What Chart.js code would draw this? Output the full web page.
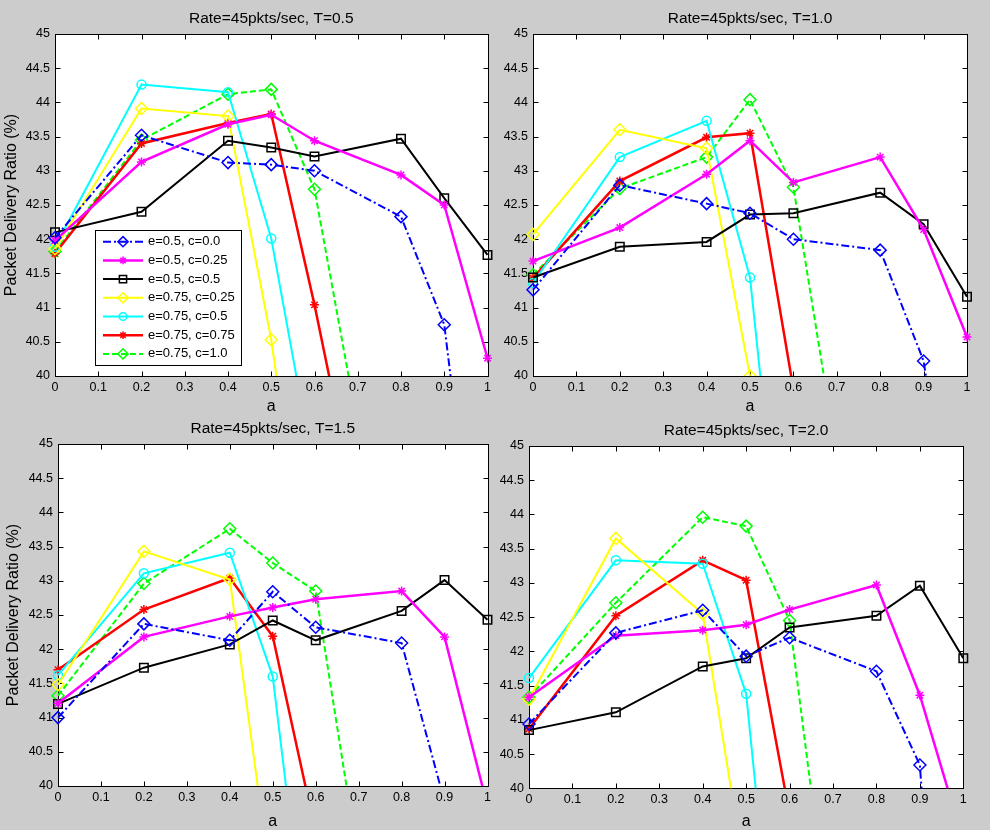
<!DOCTYPE html>
<html>
<head>
<meta charset="utf-8">
<script src="https://cdn.jsdelivr.net/npm/chart.js"></script>
<style>
  html, body { margin: 0; padding: 0; background: #cccccc; }
  #fig { position: relative; width: 990px; height: 830px; background: #cccccc; overflow: hidden; }
  .panel { position: absolute; width: 495px; height: 415px; }
  canvas { display: block; }
</style>
</head>
<body>
<div id="fig">
  <div class="panel" style="left:0;top:0"><canvas id="p1" width="495" height="415"></canvas></div>
  <div class="panel" style="left:495px;top:0"><canvas id="p2" width="495" height="415"></canvas></div>
  <div class="panel" style="left:0;top:415px"><canvas id="p3" width="495" height="415"></canvas></div>
  <div class="panel" style="left:495px;top:415px"><canvas id="p4" width="495" height="415"></canvas></div>
</div>
<script>
// x positions (a) where every series was measured
const aValues = [0, 0.2, 0.4, 0.5, 0.6, 0.8, 0.9, 1];

const xTicks = [0, 0.1, 0.2, 0.3, 0.4, 0.5, 0.6, 0.7, 0.8, 0.9, 1];
const xTickLabels = ['0', '0.1', '0.2', '0.3', '0.4', '0.5', '0.6', '0.7', '0.8', '0.9', '1'];
const yTicks = [40, 40.5, 41, 41.5, 42, 42.5, 43, 43.5, 44, 44.5, 45];
const yTickLabels = ['40', '40.5', '41', '41.5', '42', '42.5', '43', '43.5', '44', '44.5', '45'];

const seriesLabels = ['e=0.5, c=0.0', 'e=0.5, c=0.25', 'e=0.5, c=0.5', 'e=0.75, c=0.25',
                      'e=0.75, c=0.5', 'e=0.75, c=0.75', 'e=0.75, c=1.0'];

// T = 0.5
const T05_e050_c000 = [42.02, 43.52, 43.12, 43.09, 43.00, 42.33, 40.75, 35.6];
const T05_e050_c025 = [41.98, 43.13, 43.68, 43.82, 43.44, 42.94, 42.50, 40.26];
const T05_e050_c050 = [42.10, 42.40, 43.44, 43.34, 43.21, 43.47, 42.60, 41.77];
const T05_e075_c025 = [41.86, 43.91, 43.80, 40.53, 36.1, null, null, null];
const T05_e075_c050 = [41.89, 44.26, 44.15, 42.01, 38.55, null, null, null];
const T05_e075_c075 = [41.79, 43.40, 43.70, 43.83, 41.04, 34.9, null, null];
const T05_e075_c100 = [41.82, 43.45, 44.12, 44.19, 42.73, 35.8, null, null];

// T = 1.0
const T10_e050_c000 = [41.26, 42.79, 42.52, 42.38, 42.00, 41.84, 40.22, 36.0];
const T10_e050_c025 = [41.68, 42.17, 42.95, 43.44, 42.83, 43.20, 42.14, 40.57];
const T10_e050_c050 = [41.44, 41.89, 41.96, 42.36, 42.38, 42.68, 42.22, 41.16];
const T10_e075_c025 = [42.07, 43.60, 43.33, 40.00, 35.0, null, null, null];
const T10_e075_c050 = [41.36, 43.20, 43.73, 41.44, 35.4, null, null, null];
const T10_e075_c075 = [41.43, 42.85, 43.49, 43.55, 39.81, 36.5, null, null];
const T10_e075_c100 = [41.48, 42.74, 43.20, 44.04, 42.76, 34.9, null, null];

// T = 1.5
const T15_e050_c000 = [41.00, 42.37, 42.13, 42.84, 42.32, 42.09, 39.77, 36.0];
const T15_e050_c025 = [41.21, 42.18, 42.48, 42.61, 42.73, 42.85, 42.18, 39.70];
const T15_e050_c050 = [41.20, 41.73, 42.07, 42.42, 42.13, 42.56, 43.01, 42.43];
const T15_e075_c025 = [41.48, 43.43, 43.02, 38.37, null, null, null, null];
const T15_e075_c050 = [41.62, 43.11, 43.41, 41.60, 36.4, null, null, null];
const T15_e075_c075 = [41.70, 42.58, 43.04, 42.19, 39.31, null, null, null];
const T15_e075_c100 = [41.32, 42.96, 43.76, 43.26, 42.85, 34.9, null, null];

// T = 2.0
const T20_e050_c000 = [40.94, 42.27, 42.60, 41.93, 42.20, 41.71, 40.34, 31.4];
const T20_e050_c025 = [41.33, 42.23, 42.31, 42.39, 42.61, 42.97, 41.36, 39.23];
const T20_e050_c050 = [40.85, 41.11, 41.78, 41.90, 42.35, 42.52, 42.96, 41.90];
const T20_e075_c025 = [41.30, 43.65, 42.55, 38.63, null, null, null, null];
const T20_e075_c050 = [41.61, 43.33, 43.28, 41.38, 35.1, null, null, null];
const T20_e075_c075 = [40.87, 42.52, 43.33, 43.04, 39.62, null, null, null];
const T20_e075_c100 = [41.33, 42.71, 43.96, 43.83, 42.45, 32.45, null, null];

// line / marker look of each series (MATLAB-like)
const seriesStyles = [
  { color: '#0000ff', dash: [8, 3, 2, 3], marker: 'rectRot', radius: 6, width: 2 },
  { color: '#ff00ff', dash: [], marker: 'star', radius: 4.5, width: 2.5 },
  { color: '#000000', dash: [], marker: 'rect', radius: 6, width: 2 },
  { color: '#ffff00', dash: [], marker: 'rectRot', radius: 6, width: 2 },
  { color: '#00ffff', dash: [], marker: 'circle', radius: 4.5, width: 2 },
  { color: '#ff0000', dash: [], marker: 'star', radius: 4.5, width: 2.5 },
  { color: '#00ff00', dash: [6, 3], marker: 'rectRot', radius: 6, width: 2 }
];

Chart.defaults.font.family = "'Liberation Sans', Arial, sans-serif";
Chart.defaults.color = '#000';

function drawMarker(ctx, style, x, y, r) {
  ctx.beginPath();
  if (style === 'rectRot') {
    ctx.moveTo(x, y - r); ctx.lineTo(x + r, y); ctx.lineTo(x, y + r); ctx.lineTo(x - r, y); ctx.closePath();
  } else if (style === 'rect') {
    const s = r * Math.SQRT1_2;
    ctx.rect(x - s, y - s, 2 * s, 2 * s);
  } else if (style === 'circle') {
    ctx.arc(x, y, r, 0, Math.PI * 2);
  } else if (style === 'star') {
    const d = r * Math.SQRT1_2;
    ctx.moveTo(x, y - r); ctx.lineTo(x, y + r);
    ctx.moveTo(x - r, y); ctx.lineTo(x + r, y);
    ctx.moveTo(x - d, y - d); ctx.lineTo(x + d, y + d);
    ctx.moveTo(x - d, y + d); ctx.lineTo(x + d, y - d);
  }
  ctx.stroke();
}

// white axes background, box and inward ticks on all four sides
const axesBox = {
  id: 'axesBox',
  beforeDatasetsDraw(chart) {
    const { ctx, chartArea: a, scales: { x, y } } = chart;
    const l = Math.round(a.left) + 0.5, r = Math.round(a.right) + 0.5;
    const t = Math.round(a.top) + 0.5, b = Math.round(a.bottom) + 0.5;
    ctx.save();
    ctx.fillStyle = '#fff';
    ctx.fillRect(l, t, r - l, b - t);
    ctx.strokeStyle = '#000';
    ctx.lineWidth = 1;
    ctx.beginPath();
    x.ticks.forEach(tk => {
      const px = Math.round(x.getPixelForValue(tk.value)) + 0.5;
      ctx.moveTo(px, b); ctx.lineTo(px, b - 5);
      ctx.moveTo(px, t); ctx.lineTo(px, t + 5);
    });
    y.ticks.forEach(tk => {
      const py = Math.round(y.getPixelForValue(tk.value)) + 0.5;
      ctx.moveTo(l, py); ctx.lineTo(l + 5, py);
      ctx.moveTo(r, py); ctx.lineTo(r - 5, py);
    });
    ctx.stroke();
    ctx.strokeRect(l, t, r - l, b - t);
    ctx.restore();
  }
};

// boxed legend inside the first panel
const boxLegend = {
  id: 'boxLegend',
  afterDatasetsDraw(chart, args, opts) {
    if (!opts.show) return;
    const ctx = chart.ctx;
    ctx.save();
    ctx.fillStyle = '#fff';
    ctx.strokeStyle = '#000';
    ctx.lineWidth = 1;
    ctx.fillRect(95.5, 230.5, 146, 135);
    ctx.strokeRect(95.5, 230.5, 146, 135);
    ctx.font = "13px 'Liberation Sans', Arial, sans-serif";
    ctx.textBaseline = 'middle';
    ctx.textAlign = 'left';
    chart.data.datasets.forEach((ds, i) => {
      const st = seriesStyles[i];
      const yy = 241.7 + i * 18.7;
      ctx.strokeStyle = st.color;
      ctx.lineWidth = st.width;
      ctx.setLineDash(st.dash);
      ctx.beginPath();
      ctx.moveTo(103, yy); ctx.lineTo(143, yy);
      ctx.stroke();
      ctx.setLineDash([]);
      ctx.lineWidth = 1.5;
      drawMarker(ctx, st.marker, 123, yy, st.radius * 0.85);
      ctx.fillStyle = '#000';
      ctx.fillText(ds.label, 148, yy);
    });
    ctx.restore();
  }
};

const panels = [
  { id: 'p1', title: 'Rate=45pkts/sec, T=0.5',
    series: [T05_e050_c000, T05_e050_c025, T05_e050_c050, T05_e075_c025, T05_e075_c050, T05_e075_c075, T05_e075_c100],
    yLabel: true, yWidth: 55, padRight: 6, titleTop: 11.2, titleBottom: 7.3, xHeight: 39, xTitlePad: 1.8, yTitlePad: 1.5, legend: true },
  { id: 'p2', title: 'Rate=45pkts/sec, T=1.0',
    series: [T10_e050_c000, T10_e050_c025, T10_e050_c050, T10_e075_c025, T10_e075_c050, T10_e075_c075, T10_e075_c100],
    yLabel: false, yWidth: 38, padRight: 23, titleTop: 10.5, titleBottom: 8, xHeight: 39, xTitlePad: 1.6, yTitlePad: 0, legend: false },
  { id: 'p3', title: 'Rate=45pkts/sec, T=1.5',
    series: [T15_e050_c000, T15_e050_c025, T15_e050_c050, T15_e075_c025, T15_e075_c050, T15_e075_c075, T15_e075_c100],
    yLabel: true, yWidth: 58, padRight: 3, titleTop: 5.5, titleBottom: 8, xHeight: 44, xTitlePad: 6.6, yTitlePad: 4.4, legend: false },
  { id: 'p4', title: 'Rate=45pkts/sec, T=2.0',
    series: [T20_e050_c000, T20_e050_c025, T20_e050_c050, T20_e075_c025, T20_e075_c050, T20_e075_c075, T20_e075_c100],
    yLabel: false, yWidth: 34, padRight: 26.7, titleTop: 8, titleBottom: 7.5, xHeight: 41.7, xTitlePad: 4.3, yTitlePad: 0, legend: false }
];

panels.forEach(p => {
  const datasets = seriesLabels.map((label, i) => {
    const st = seriesStyles[i];
    return {
      label,
      data: aValues.map((a, j) => ({ x: a, y: p.series[i][j] })),
      borderColor: st.color,
      borderWidth: st.width,
      borderDash: st.dash,
      pointStyle: st.marker,
      pointRadius: st.radius,
      pointBorderWidth: 1.5,
      pointBorderColor: st.color,
      pointBackgroundColor: 'rgba(0,0,0,0)',
      tension: 0,
      spanGaps: false,
      clip: { left: 10, right: 10, top: 0, bottom: 0 }
    };
  });

  new Chart(document.getElementById(p.id).getContext('2d'), {
    type: 'line',
    data: { datasets },
    options: {
      responsive: false,
      animation: false,
      events: [],
      layout: { padding: { left: 0, right: p.padRight, top: 0, bottom: 0 } },
      scales: {
        x: {
          type: 'linear', min: 0, max: 1,
          afterBuildTicks: s => { s.ticks = xTicks.map(v => ({ value: v })); },
          afterFit: s => { s.height = p.xHeight; },
          grid: { display: false, drawTicks: false },
          border: { display: false },
          ticks: { autoSkip: false, maxRotation: 0, padding: 4, font: { size: 12.5 }, color: '#000',
                    callback: (v, i) => xTickLabels[i] },
          title: { display: true, text: 'a', font: { size: 16, lineHeight: 1 }, color: '#000',
                   padding: { top: p.xTitlePad, bottom: 0 } }
        },
        y: {
          type: 'linear', min: 40, max: 45,
          afterBuildTicks: s => { s.ticks = yTicks.map(v => ({ value: v })); },
          afterFit: s => { s.width = p.yWidth; },
          grid: { display: false, drawTicks: false },
          border: { display: false },
          ticks: { autoSkip: false, padding: 5, font: { size: 12.5 }, color: '#000',
                   callback: (v, i) => yTickLabels[i] },
          title: { display: p.yLabel, text: 'Packet Delivery Ratio (%)', font: { size: 16, lineHeight: 1.2 },
                   color: '#000', padding: { top: p.yTitlePad, bottom: 0 } }
        }
      },
      plugins: {
        legend: { display: false },
        tooltip: { enabled: false },
        title: {
          display: true, text: p.title, fullSize: false, color: '#000',
          font: { size: 15.5, weight: 'normal', lineHeight: 1 },
          padding: { top: p.titleTop, bottom: p.titleBottom }
        },
        boxLegend: { show: p.legend }
      }
    },
    plugins: [axesBox, boxLegend]
  });
});
</script>
</body>
</html>
